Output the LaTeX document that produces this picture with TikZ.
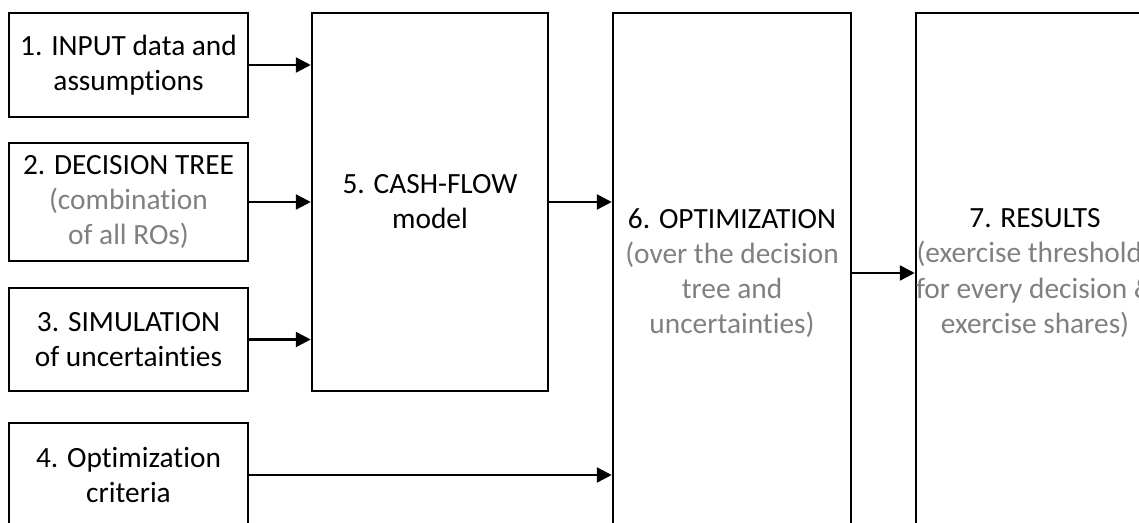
\documentclass[tikz,border=0pt]{standalone}
\usepackage{xcolor}
\usepackage{fontspec}
\setmainfont{Carlito}[Ligatures=NoCommon]
\usepackage{tikz}
\usetikzlibrary{arrows.meta, positioning}
\definecolor{subtext}{RGB}{128,128,128}

\begin{document}
\begin{tikzpicture}[
  box/.style={draw=black, line width=0.05cm, align=center, inner sep=0pt,
    font=\fontsize{16.7}{20}\selectfont},
  inbox/.style={box, minimum width=4.78cm, minimum height=2.08cm},
  tallbox/.style={box, minimum width=4.76cm, minimum height=10.4cm},
  flow/.style={-{Triangle[length=0.3cm,width=0.3cm]}, line width=0.05cm}
]
\useasboundingbox (0,0) rectangle (22.78,-10.46);
% inputs on the left
\node[inbox] (in1) at (2.57,-1.30) {1. INPUT data and\\assumptions};
\node[inbox, minimum height=2.36cm] (in2) at (2.57,-4.04) {2. DECISION TREE\\\textcolor{subtext}{(combination}\\\textcolor{subtext}{of all ROs)}};
\node[inbox, minimum height=2.06cm] (in3) at (2.57,-6.79) {3. SIMULATION\\of uncertainties};
\node[inbox] (in4) at (2.57,-9.50) {4. Optimization\\criteria};
% model, optimization and results
\node[box, minimum width=4.72cm, minimum height=7.56cm] (cf) at (8.6,-4.04) {5. CASH-FLOW\\model};
\node[tallbox] (opt) at (14.64,-5.46) {6. OPTIMIZATION\\\textcolor{subtext}{(over the decision}\\\textcolor{subtext}{tree and}\\\textcolor{subtext}{uncertainties)}};
\node[tallbox] (res) at (20.70,-5.46) {7. RESULTS\\\textcolor{subtext}{(exercise thresholds}\\\textcolor{subtext}{for every decision \&}\\\textcolor{subtext}{exercise shares)}};
\foreach \i in {1,2,3}{\draw[flow](in\i.east)--(in\i.east -| cf.west);}
\draw[flow](in4.east)--(in4.east -| opt.west);
\draw[flow](cf.east)--(cf.east -| opt.west);
\draw[flow](opt.east)--(opt.east -| res.west);
\end{tikzpicture}
\end{document}
